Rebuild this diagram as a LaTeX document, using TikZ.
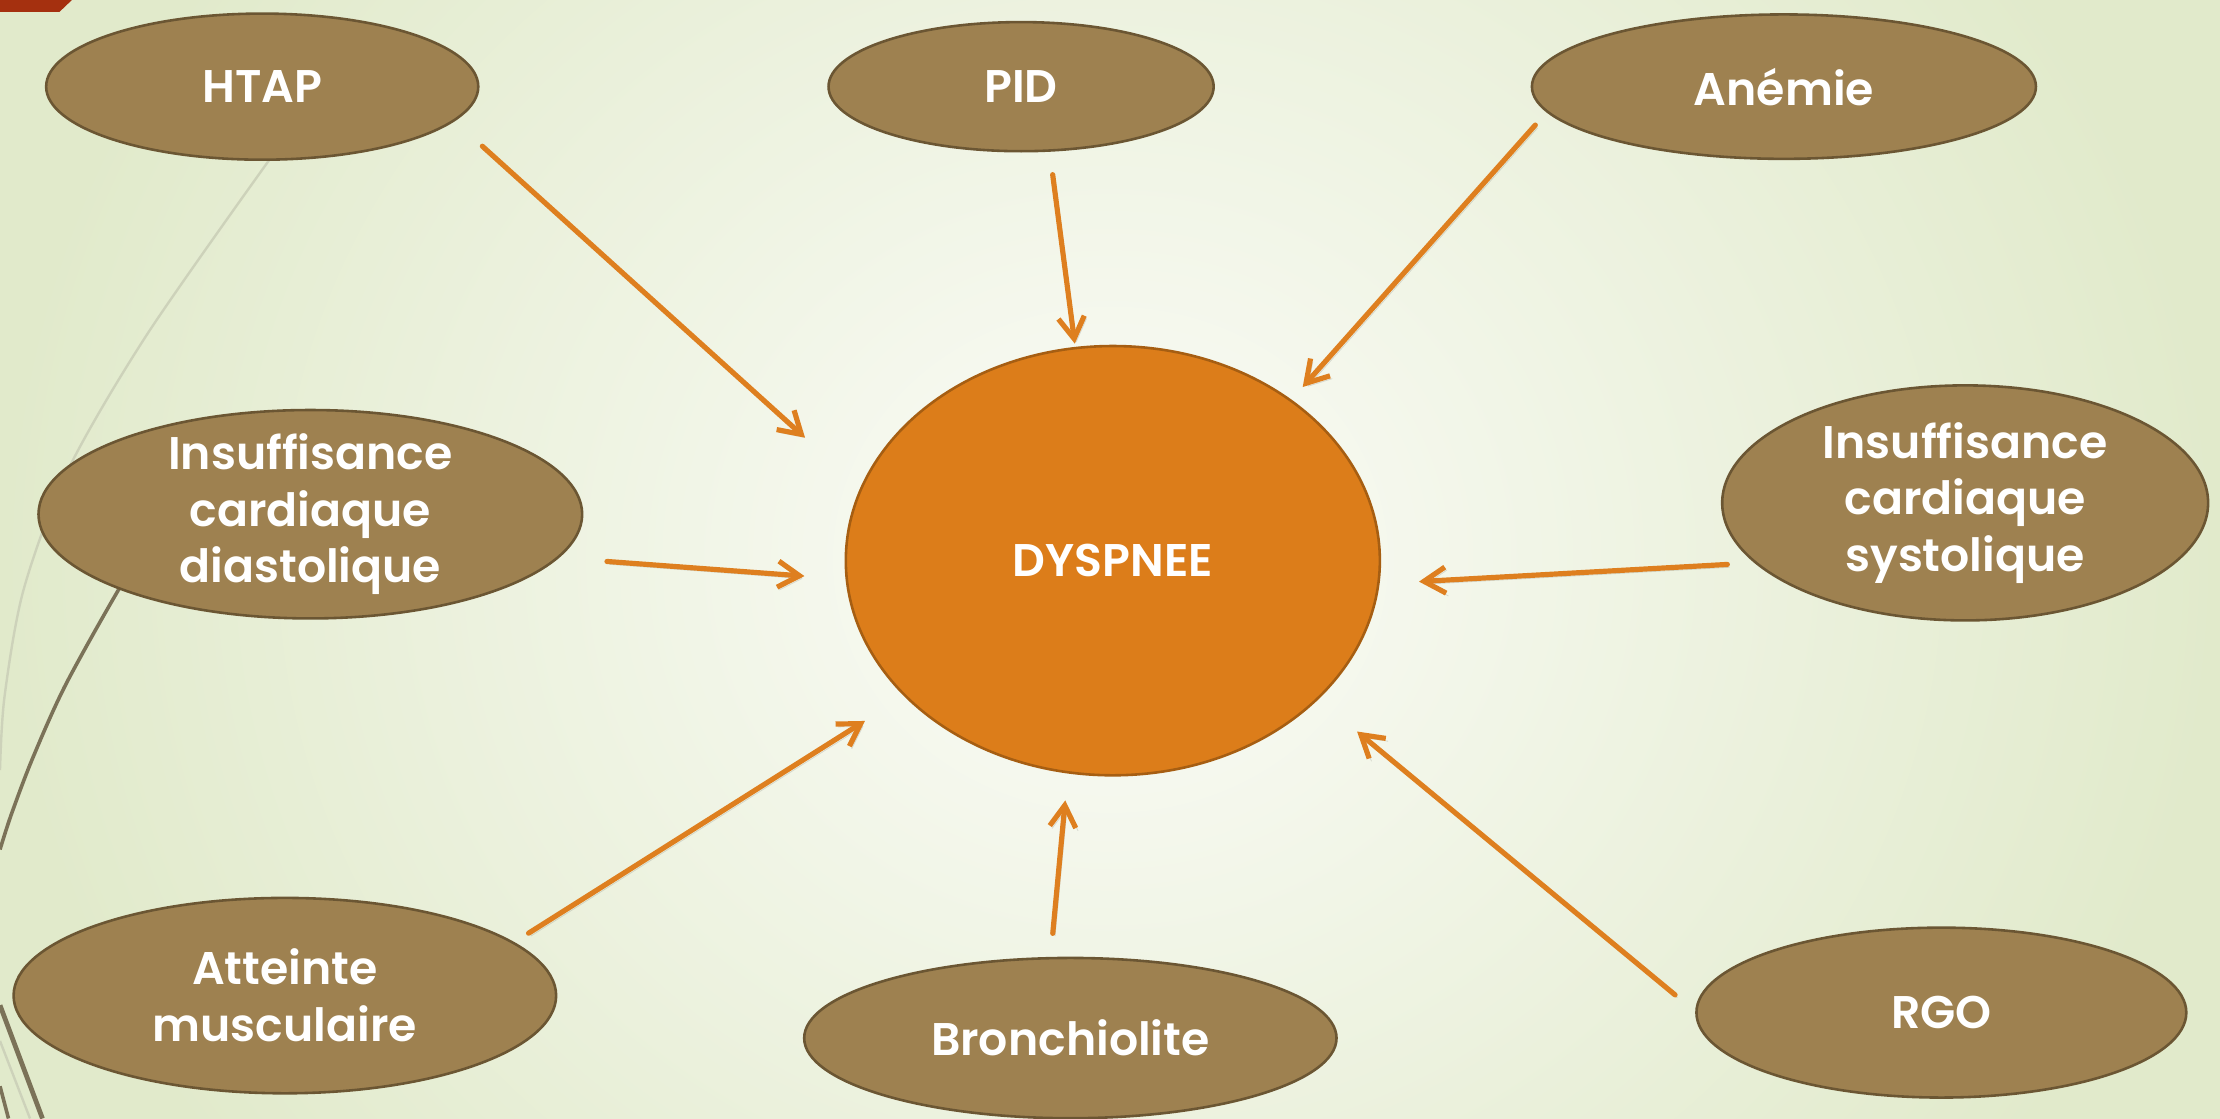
\documentclass[tikz,border=0pt]{standalone}
\usepackage{fontspec}
\usepackage{tikz}
\usetikzlibrary{shapes,arrows.meta}

\newfontfamily\gothic{Poppins}[BoldFont={Poppins SemiBold}]

\definecolor{bgcenter}{HTML}{FBFCF8}
\definecolor{bgedge}{HTML}{E1EACB}
\definecolor{causefill}{HTML}{9E8150}
\definecolor{causeline}{HTML}{6B5633}
\definecolor{corefill}{HTML}{DC7D1A}
\definecolor{coreline}{HTML}{A65E12}
\definecolor{arrowcol}{HTML}{DE7F1F}
\definecolor{tabred}{HTML}{A5300F}
\definecolor{wisplight}{HTML}{CDD2BA}
\definecolor{wispdark}{HTML}{7B7258}

\begin{document}
\begin{tikzpicture}[
    cause/.style={ellipse, draw=causeline, fill=causefill, line width=1.3pt, text=white, align=center,
                  inner sep=0pt, outer sep=0pt, font=\gothic\bfseries\fontsize{23}{28.5}\selectfont},
    core/.style={cause, draw=coreline, fill=corefill},
    edge/.style={-{Straight Barb[length=3.8mm, width=4.6mm]}, line width=2.6pt, draw=arrowcol, line cap=round,
                 preaction={draw=black, opacity=0.12, transform canvas={shift={(0.04,-0.05)}}}},
    wisp/.style={line width=1.2pt, draw=wisplight},
    wispdk/.style={line width=1.8pt, draw=wispdark},
]

\useasboundingbox (0,0) rectangle (39.2,-19.75);

% Background
\shade[inner color=bgcenter, outer color=bgedge] (0,8) rectangle (39.2,-27.75);
\fill[tabred] (0,0) -- (1.27,0) -- (1.05,-0.21) -- (0,-0.21) -- cycle;

% Wisp lines
\draw[wisp] plot[smooth] coordinates {(4.75,-2.83) (2.6,-5.9) (1.2,-8.3) (0.42,-10.4) (0.08,-12.3) (0,-13.6)};
\draw[wisp] (0,-18.38) -- (0.53,-19.75);
\draw[wispdk] plot[smooth] coordinates {(2.75,-9.5) (2.25,-10.15) (1.18,-12.05) (0.58,-13.38) (0.2,-14.38) (0,-15.0)};
\draw[wispdk, line width=2.4pt] (0,-17.75) -- (0.75,-19.75);
\draw[wispdk] (0,-19.18) -- (0.15,-19.75);

% Causes
\node[cause, minimum width=7.63cm, minimum height=2.58cm] (htap) at (4.63,-1.53) {HTAP};
\node[cause, minimum width=6.80cm, minimum height=2.28cm] (pid) at (18.03,-1.53) {PID};
\node[cause, minimum width=8.90cm, minimum height=2.55cm] (anemie) at (31.50,-1.53) {Anémie};
\node[cause, minimum width=9.60cm, minimum height=3.68cm, inner ysep=-1.5mm] (icd) at (5.48,-9.08) {Insuffisance\\cardiaque\\diastolique};
\node[cause, minimum width=8.58cm, minimum height=4.15cm] (ics) at (34.70,-8.88) {Insuffisance\\cardiaque\\systolique};
\node[cause, minimum width=9.58cm, minimum height=3.45cm] (muscle) at (5.03,-17.58) {Atteinte\\musculaire};
\node[cause, minimum width=9.40cm, minimum height=2.83cm] (bronch) at (18.90,-18.33) {Bronchiolite};
\node[cause, minimum width=8.65cm, minimum height=3.00cm] (rgo) at (34.28,-17.88) {RGO};

% Symptom
\node[core, minimum width=9.43cm, minimum height=7.58cm] (dyspnee) at (19.65,-9.90) {DYSPNEE};

% Arrows
\draw[edge, shorten <=0.68cm, shorten >=1.34cm] (htap.-10.6) -- (dyspnee.164.6);
\draw[edge, shorten <=0.43cm, shorten >=0.08cm] (pid.-66) -- (dyspnee.100.8);
\draw[edge, shorten <=0.32cm, shorten >=0.32cm] (anemie.-174.8) -- (dyspnee.42.8);
\draw[edge, shorten <=0.88cm, shorten >=0.75cm] (icd.-10.5) -- (dyspnee.-176.7);
\draw[edge, shorten <=0.51cm, shorten >=0.72cm] (ics.-164.8) -- (dyspnee.-5.2);
\draw[edge, shorten <=0.32cm, shorten >=0.84cm] (muscle.13) -- (dyspnee.-147.5);
\draw[edge, shorten <=0.44cm, shorten >=0.50cm] (bronch.104.6) -- (dyspnee.-102.1);
\draw[edge, shorten <=0.49cm, shorten >=0.91cm] (rgo.180) -- (dyspnee.-34.7);

\end{tikzpicture}
\end{document}
